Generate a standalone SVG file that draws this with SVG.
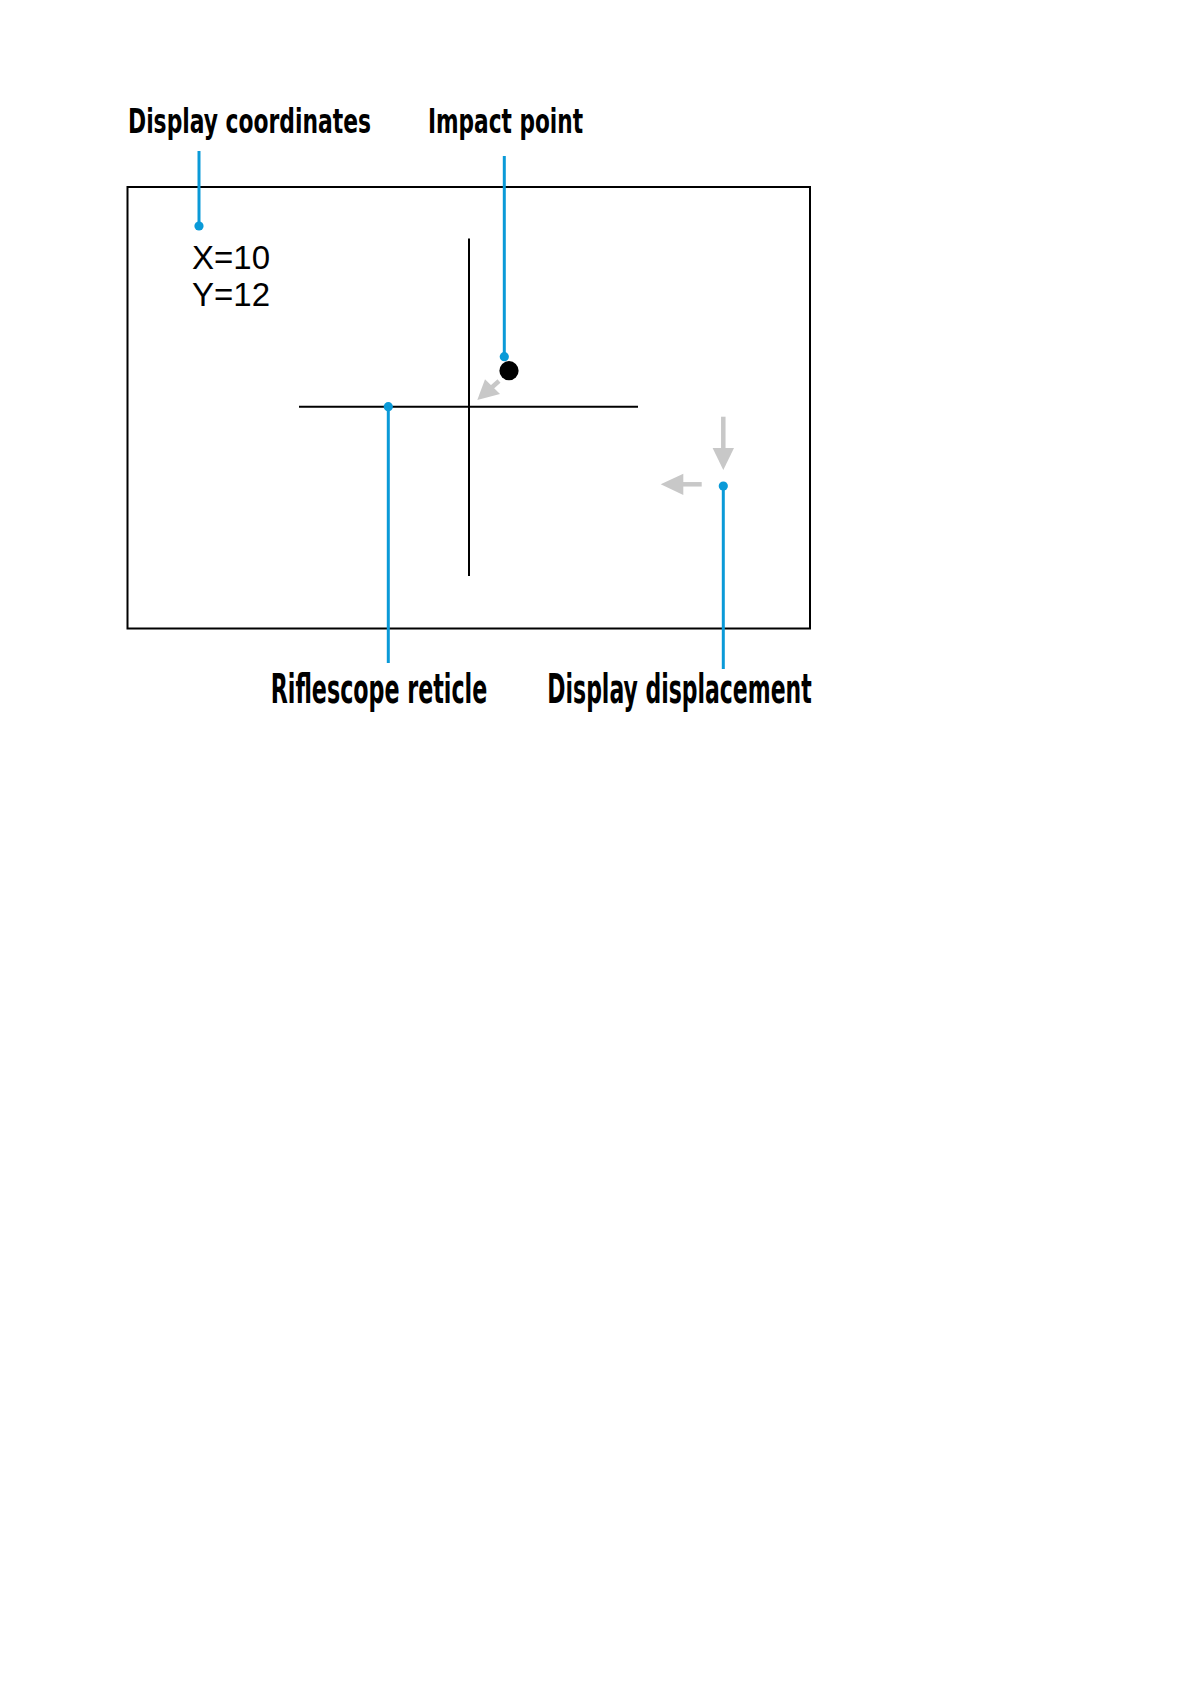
<svg xmlns="http://www.w3.org/2000/svg" width="1191" height="1684" viewBox="0 0 1191 1684">
<style>
.lbl{font-family:"Liberation Sans Narrow","DejaVu Sans Condensed","Liberation Sans",sans-serif;font-weight:bold;fill:#000}
.coord{font-family:"Liberation Sans",Arial,sans-serif;font-size:33px;fill:#000}
.lead{stroke:#0a9ad8;stroke-width:3;fill:none}
.dot{fill:#0a9ad8}
.grey{fill:#c8c8c8}
.greyl{stroke:#c8c8c8;stroke-width:4.5;fill:none}
.ret{stroke:#000;stroke-width:2;fill:none}
</style>
<rect width="1191" height="1684" fill="#fff"/>
<g id="display-frame">
<rect x="127.5" y="187" width="682.5" height="441.5" fill="none" stroke="#000" stroke-width="2"/>
</g>
<g id="riflescope-reticle">
<line class="ret" x1="469" y1="238.5" x2="469" y2="576"/>
<line class="ret" x1="299" y1="406.7" x2="638" y2="406.7"/>
</g>
<g id="display-coordinates-text">
<text class="coord" x="192" y="269">X=10</text>
<text class="coord" x="192" y="306">Y=12</text>
</g>
<g id="impact-point">
<circle cx="509" cy="370.7" r="9.6" fill="#000"/>
</g>
<g id="shift-arrows">
<line class="greyl" x1="499" y1="381" x2="490" y2="389"/>
<polygon class="grey" points="477.3,400 485,379.3 500,394"/>
<line class="greyl" x1="723.3" y1="416.7" x2="723.3" y2="449"/>
<polygon class="grey" points="712.6,448 734,448 723.3,470"/>
<line class="greyl" x1="701.7" y1="484.3" x2="682" y2="484.3"/>
<polygon class="grey" points="660.7,484.3 683.3,473.7 683.3,495"/>
</g>
<g id="labels">
<text class="lbl" x="128" y="133" font-size="34" textLength="243" lengthAdjust="spacingAndGlyphs">Display coordinates</text>
<text class="lbl" x="428" y="133" font-size="34" textLength="155" lengthAdjust="spacingAndGlyphs">Impact point</text>
<text class="lbl" x="270.7" y="703.3" font-size="40" textLength="216.6" lengthAdjust="spacingAndGlyphs">Riflescope reticle</text>
<text class="lbl" x="547.3" y="703.3" font-size="40" textLength="264.4" lengthAdjust="spacingAndGlyphs">Display displacement</text>
</g>
<g id="connectors">
<line class="lead" x1="199" y1="151" x2="199" y2="226"/>
<circle class="dot" cx="199" cy="226" r="4.6"/>
<line class="lead" x1="504.3" y1="156" x2="504.3" y2="356.7"/>
<circle class="dot" cx="504.3" cy="356.7" r="4.6"/>
<line class="lead" x1="388.3" y1="406.7" x2="388.3" y2="663"/>
<circle class="dot" cx="388.3" cy="406.7" r="4.6"/>
<line class="lead" x1="723.3" y1="486" x2="723.3" y2="669"/>
<circle class="dot" cx="723.3" cy="486" r="4.6"/>
</g>
</svg>
